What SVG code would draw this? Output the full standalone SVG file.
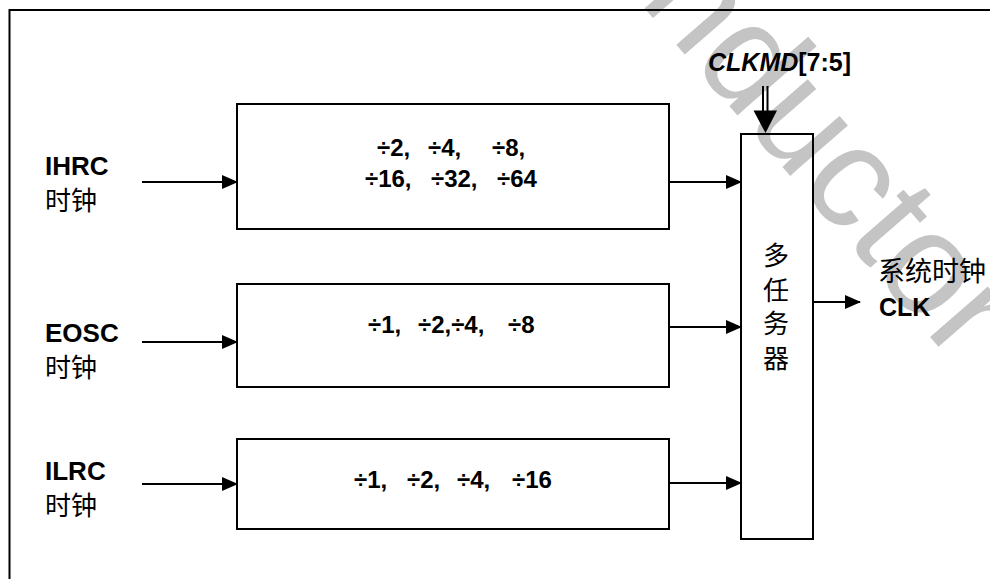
<svg xmlns="http://www.w3.org/2000/svg" width="990" height="579" viewBox="0 0 990 579">
<style>
.box{fill:none;stroke:#000;stroke-width:2}
.ln{fill:none;stroke:#000;stroke-width:2}
.b{font-family:"Liberation Sans",Arial,sans-serif;font-weight:bold;fill:#000}
.cjk{font-family:"Liberation Sans","Noto Sans CJK SC",sans-serif;fill:#000}
.div{font-family:"Liberation Sans",Arial,sans-serif;font-weight:bold;font-size:24px;fill:#000}
.wm{font-family:"Liberation Sans",Arial,sans-serif;font-size:145px;fill:#c4c4c4}
</style>
<defs>
<marker id="arr" markerWidth="16" markerHeight="14" refX="15" refY="7" orient="auto" markerUnits="userSpaceOnUse">
<path d="M0,0 L16,7 L0,14 z" fill="#000"/>
</marker>
</defs>
<rect width="990" height="579" fill="#fff"/>
<text class="wm" transform="translate(585,-60) rotate(49)">onductor</text>
<g id="frame">
<path class="ln" d="M9.5,579 L9.5,10 L990,10"/>
</g>
<g id="connectors">
<line class="ln" x1="142" y1="182" x2="237" y2="182" marker-end="url(#arr)"/>
<line class="ln" x1="142" y1="342" x2="237" y2="342" marker-end="url(#arr)"/>
<line class="ln" x1="142" y1="484" x2="237" y2="484" marker-end="url(#arr)"/>
<line class="ln" x1="669" y1="182" x2="741" y2="182" marker-end="url(#arr)"/>
<line class="ln" x1="669" y1="327" x2="741" y2="327" marker-end="url(#arr)"/>
<line class="ln" x1="669" y1="483" x2="741" y2="483" marker-end="url(#arr)"/>
<line class="ln" x1="813" y1="302" x2="860" y2="302" marker-end="url(#arr)"/>
<line class="ln" x1="763" y1="86" x2="763" y2="112"/>
<line class="ln" x1="767.5" y1="86" x2="767.5" y2="112"/>
<path d="M753.5,110.5 L777,110.5 L765.5,133 z" fill="#000"/>
</g>
<g id="ihrc">
<text class="b" x="45" y="175" font-size="26">IHRC</text>
<text class="cjk" x="45" y="210" font-size="26">时钟</text>
</g>
<g id="eosc">
<text class="b" x="45" y="342" font-size="26">EOSC</text>
<text class="cjk" x="45" y="377" font-size="26">时钟</text>
</g>
<g id="ilrc">
<text class="b" x="45" y="480" font-size="26">ILRC</text>
<text class="cjk" x="45" y="515" font-size="26">时钟</text>
</g>
<g id="div1">
<rect class="box" x="237" y="104" width="432" height="125"/>
<text class="div" y="156"><tspan x="377">÷2,</tspan><tspan x="428">÷4,</tspan><tspan x="492">÷8,</tspan></text>
<text class="div" y="187"><tspan x="365">÷16,</tspan><tspan x="431">÷32,</tspan><tspan x="497">÷64</tspan></text>
</g>
<g id="div2">
<rect class="box" x="237" y="284" width="432" height="103"/>
<text class="div" y="333"><tspan x="368">÷1,</tspan><tspan x="418">÷2,÷4,</tspan><tspan x="508">÷8</tspan></text>
</g>
<g id="div3">
<rect class="box" x="237" y="439" width="432" height="90"/>
<text class="div" y="488"><tspan x="354">÷1,</tspan><tspan x="407">÷2,</tspan><tspan x="457">÷4,</tspan><tspan x="512">÷16</tspan></text>
</g>
<g id="mux">
<rect class="box" x="741" y="134" width="72" height="405"/>
<text class="cjk" x="776" font-size="26" text-anchor="middle"><tspan x="776" y="265">多</tspan><tspan x="776" y="300">任</tspan><tspan x="776" y="333">务</tspan><tspan x="776" y="368">器</tspan></text>
</g>
<g id="clkmd">
<text class="b" x="708" y="71" font-size="25"><tspan font-style="italic">CLKMD</tspan>[7:5]</text>
</g>
<g id="sysclk">
<text class="cjk" x="878" y="281" font-size="27">系统时钟</text>
<text class="b" x="879" y="316" font-size="25">CLK</text>
</g>
</svg>
